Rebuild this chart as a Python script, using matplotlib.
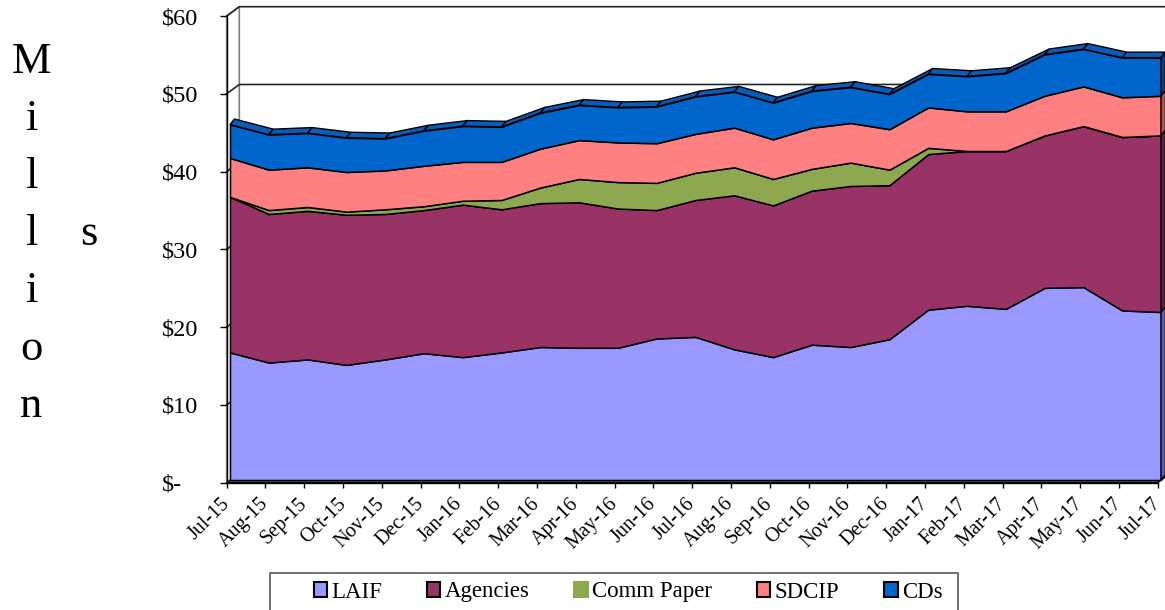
import numpy as np
import matplotlib
matplotlib.use("Agg")
import matplotlib.pyplot as plt
from matplotlib.patches import Polygon, Rectangle, Patch
from matplotlib.transforms import Affine2D, IdentityTransform
from matplotlib.lines import Line2D

# ---- data ($ millions, month-end balances) ----
months = ["Jul-15", "Aug-15", "Sep-15", "Oct-15", "Nov-15", "Dec-15", "Jan-16",
          "Feb-16", "Mar-16", "Apr-16", "May-16", "Jun-16", "Jul-16", "Aug-16",
          "Sep-16", "Oct-16", "Nov-16", "Dec-16", "Jan-17", "Feb-17", "Mar-17",
          "Apr-17", "May-17", "Jun-17", "Jul-17"]
laif = [16.4, 15.1, 15.5, 14.8, 15.5, 16.3, 15.8, 16.4, 17.1, 17.0, 17.0, 18.2, 18.4,
        16.8, 15.8, 17.4, 17.1, 18.1, 21.9, 22.4, 22.0, 24.7, 24.8, 21.8, 21.6]
agencies = [20.0, 19.1, 19.1, 19.3, 18.7, 18.4, 19.6, 18.4, 18.5, 18.7, 17.9, 16.5, 17.6,
            19.8, 19.5, 19.8, 20.7, 19.8, 20.0, 19.9, 20.3, 19.6, 20.7, 22.3, 22.7]
comm_paper = [0.0, 0.5, 0.5, 0.4, 0.6, 0.5, 0.5, 1.2, 2.0, 3.0, 3.4, 3.5, 3.5,
              3.6, 3.4, 2.8, 3.0, 2.0, 0.8, 0.0, 0.0, 0.0, 0.0, 0.0, 0.0]
sdcip = [5.0, 5.2, 5.1, 5.1, 5.0, 5.2, 5.0, 4.9, 5.0, 5.0, 5.1, 5.1, 5.0,
         5.1, 5.1, 5.3, 5.1, 5.2, 5.2, 5.1, 5.1, 5.1, 5.1, 5.1, 5.1]
cds = [4.3, 4.5, 4.4, 4.4, 4.1, 4.5, 4.6, 4.5, 4.6, 4.5, 4.5, 4.7, 4.8,
       4.6, 4.7, 4.7, 4.6, 4.5, 4.3, 4.5, 4.9, 5.3, 4.8, 5.1, 4.9]

series_names = ["LAIF", "Agencies", "Comm Paper", "SDCIP", "CDs"]
colors = ["#9999FF", "#993366", "#8DA84F", "#FF8080", "#0066CC"]
side_colors = ["#5C5CA8", "#5E1F3F", "#58692F", "#A85353", "#003F80"]
y_ticks = [0, 10, 20, 30, 40, 50, 60]
y_labels = ["$-", "$10", "$20", "$30", "$40", "$50", "$60"]

plt.rcParams['font.family'] = ['Liberation Serif', 'DejaVu Serif']

W, H = 1165, 610
fig = plt.figure(figsize=(W / 100, H / 100), dpi=100)
fig.patch.set_facecolor('white')

# front plane of the 3-D box
ax = fig.add_axes([226.7 / W, (H - 482.7) / H, 931 / W, (482.7 - 16) / H])
ax.set_xlim(0, len(months) - 1)
ax.set_ylim(0, 60)
ax.patch.set_visible(False)

x = np.arange(len(months))
layers = np.array([laif, agencies, comm_paper, sdcip, cds])
tops = np.cumsum(layers, axis=0)
bottoms = np.vstack([np.zeros(len(x)), tops[:-1]])
xmax = x[-1]

# pixel offsets for depth (right, up)
FRONT = (3.3, 2.7)   # front face of the series slab
BACK = (7.8, 8.2)    # back face of the series slab
WALL = (12.6, 9.3)   # back wall

ident = IdentityTransform()


def disp(xv, yv, off):
    p = ax.transData.transform(np.column_stack([xv, yv]))
    return p + np.array(off)


def shifted(off):
    return ax.transData + Affine2D().translate(*off)


# floor
floor = np.vstack([disp([0, xmax], [0, 0], (0, 0)), disp([xmax, 0], [0, 0], WALL)])
ax.add_patch(Polygon(floor, closed=True, transform=ident, facecolor='#5a5a5a',
                     edgecolor='black', lw=1.0, zorder=0.5, clip_on=False))
# left wall
lwall = np.vstack([disp([0, 0], [0, 60], (0, 0)), disp([0, 0], [60, 0], WALL)])
ax.add_patch(Polygon(lwall, closed=True, transform=ident, facecolor='white',
                     edgecolor='#7f7f7f', lw=1.2, zorder=0.5, clip_on=False))
# gridlines on left and back walls
for v in y_ticks:
    seg = np.vstack([disp([0], [v], (0, 0)), disp([0, xmax + 1], [v, v], WALL)])
    ax.add_line(Line2D(seg[:, 0], seg[:, 1], transform=ident, color='#262626',
                       lw=1.2, zorder=0.8, clip_on=False))

# stacked area front faces
for k in range(len(series_names)):
    ax.fill_between(x, bottoms[k], tops[k], transform=shifted(FRONT),
                    facecolor=colors[k], edgecolor='black', lw=1.1,
                    zorder=2, clip_on=False)

# top face of the stack
top = tops[-1]
for i in range(len(x) - 1):
    pts = np.vstack([disp(x[i:i + 2], top[i:i + 2], FRONT),
                     disp(x[i:i + 2][::-1], top[i:i + 2][::-1], BACK)])
    ax.add_patch(Polygon(pts, closed=True, transform=ident, facecolor='#0A5CB8',
                         edgecolor='black', lw=1.0, zorder=3, clip_on=False))

# right side face at the last month
for k in range(len(series_names)):
    b, t = bottoms[k][-1], tops[k][-1]
    if t - b <= 0:
        continue
    pts = np.vstack([disp([xmax, xmax], [b, t], FRONT), disp([xmax, xmax], [t, b], BACK)])
    ax.add_patch(Polygon(pts, closed=True, transform=ident, facecolor=side_colors[k],
                         edgecolor='black', lw=1.0, zorder=3, clip_on=False))

# axes styling
for s in ['top', 'right']:
    ax.spines[s].set_visible(False)
for s in ['left', 'bottom']:
    ax.spines[s].set_color('black')
    ax.spines[s].set_linewidth(1.0)
    ax.spines[s].set_zorder(4)

ax.set_yticks(y_ticks)
ax.set_yticklabels(y_labels, fontsize=17.5)
ax.tick_params(axis='y', direction='out', length=4.8, width=1.0, pad=41.8)
for lab in ax.get_yticklabels():
    lab.set_horizontalalignment('left')

ax.set_xticks(x)
ax.set_xticklabels(months, fontsize=14.5, rotation=45, ha='right', va='center',
                   rotation_mode='anchor')
ax.tick_params(axis='x', direction='out', length=3.6, width=1.0, pad=9.5)

# axis title, stacked letters
letters = "Million"
for j, ch in enumerate(letters):
    fig.text(31.5 / W, 1 - (73 + 57.3 * j) / H, ch, fontsize=32, ha='center',
             va='baseline')
fig.text(89 / W, 1 - (73 + 57.3 * 3) / H, "s", fontsize=32, ha='center', va='baseline')

# legend
handles = [Patch(facecolor=c, edgecolor=('black' if n != 'Comm Paper' else c), lw=1.5)
           for n, c in zip(series_names, colors)]
fig.legend(handles, series_names, loc='center left',
           bbox_to_anchor=(313.6 / W, (H - 592) / H), ncol=5, frameon=False,
           fontsize=16.5, handlelength=0.58, handleheight=0.6, handletextpad=0.2,
           columnspacing=1.95, borderpad=0, borderaxespad=0)
fig.add_artist(Rectangle((270 / W, -5 / H), (958 - 270) / W, (H - 573 + 5) / H,
                         transform=fig.transFigure, fill=False,
                         edgecolor='#595959', lw=1.2))

fig.savefig("out.png", dpi=100, facecolor='white')
